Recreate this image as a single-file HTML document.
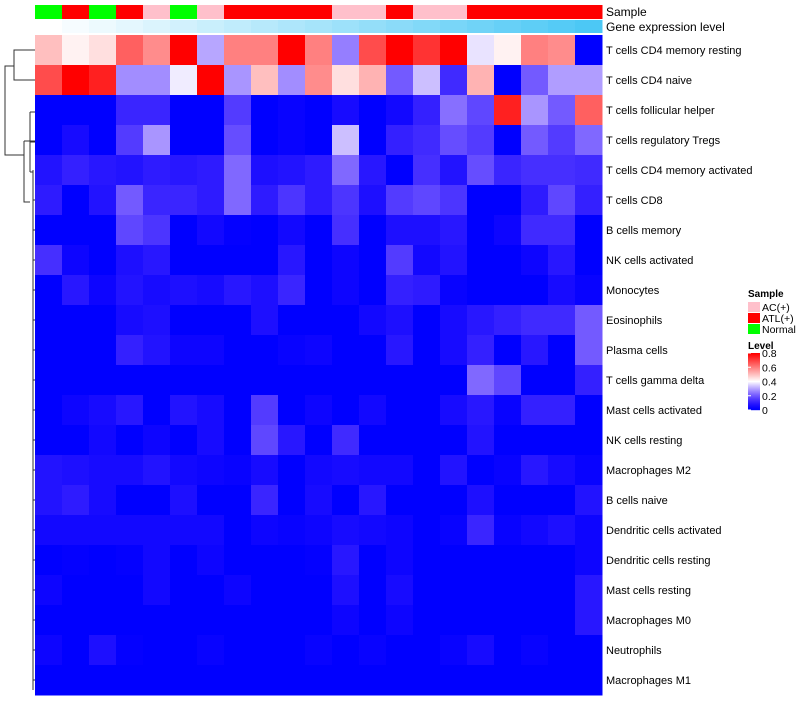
<!DOCTYPE html>
<html><head><meta charset="utf-8"><style>
body{margin:0;background:#fff;font-family:"Liberation Sans",sans-serif;}
svg text{font-family:"Liberation Sans",sans-serif;}
</style></head><body>
<svg id="chart" width="800" height="700">
<g id="dendro" stroke="#333" fill="none" stroke-width="1">
<path d="M35,50H14V80H35M14,66H5V155H24M24,141H35M24,141V202H30M30,112H35M30,142H35M30,112V172M30,172H33M33,170V690M33,200H35M33,230H35M33,260H35M33,290H35M33,320H35M33,350H35M33,380H35M33,410H35M33,440H35M33,470H35M33,500H35M33,530H35M33,560H35M33,590H35M33,620H35M33,650H35M33,680H35"/>
</g>
</svg>
<script>
const rows=["T cells CD4 memory resting","T cells CD4 naive","T cells follicular helper","T cells regulatory  Tregs","T cells CD4 memory activated","T cells CD8","B cells memory","NK cells activated","Monocytes","Eosinophils","Plasma cells","T cells gamma delta","Mast cells activated","NK cells resting","Macrophages M2","B cells naive","Dendritic cells activated","Dendritic cells resting","Mast cells resting","Macrophages M0","Neutrophils","Macrophages M1"];
const samples=["Normal","ATL(+)","Normal","ATL(+)","AC(+)","Normal","AC(+)","ATL(+)","ATL(+)","ATL(+)","ATL(+)","AC(+)","AC(+)","ATL(+)","AC(+)","AC(+)","ATL(+)","ATL(+)","ATL(+)","ATL(+)","ATL(+)"];
const geneLevel=[0,0.05,0.1,0.15,0.2,0.25,0.3,0.35,0.4,0.45,0.5,0.55,0.6,0.65,0.7,0.75,0.8,0.85,0.9,0.95,1];
const values=[
[0.5,0.42,0.45,0.65,0.58,0.8,0.3,0.6,0.6,0.8,0.6,0.25,0.68,0.8,0.72,0.8,0.37,0.42,0.6,0.58,0],
[0.68,0.8,0.75,0.27,0.27,0.38,0.8,0.28,0.5,0.27,0.58,0.45,0.52,0.2,0.33,0.12,0.52,0,0.2,0.29,0.29],
[0,0,0,0.11,0.11,0,0,0.15,0,0.02,0,0.05,0,0.04,0.1,0.23,0.17,0.75,0.28,0.2,0.65],
[0,0.05,0,0.15,0.28,0,0,0.18,0,0.02,0,0.33,0,0.1,0.12,0.18,0.15,0,0.2,0.15,0.22],
[0.07,0.1,0.08,0.07,0.09,0.08,0.09,0.22,0.06,0.07,0.09,0.22,0.08,0,0.13,0.07,0.18,0.11,0.13,0.13,0.12],
[0.09,0,0.07,0.2,0.11,0.11,0.09,0.22,0.09,0.14,0.09,0.14,0.06,0.15,0.17,0.14,0,0,0.09,0.17,0.1],
[0,0,0,0.17,0.14,0,0.04,0.01,0,0.04,0,0.13,0,0.06,0.06,0.08,0,0.03,0.12,0.12,0],
[0.13,0.03,0,0.06,0.08,0,0,0,0,0.08,0,0.03,0,0.15,0.04,0.07,0,0,0.03,0.08,0],
[0,0.08,0.03,0.07,0.05,0.06,0.05,0.08,0.06,0.11,0,0.03,0,0.1,0.09,0.02,0,0,0,0.05,0.02],
[0,0,0,0.05,0.06,0,0,0,0.06,0,0,0,0.04,0.06,0,0.05,0.08,0.1,0.12,0.12,0.2],
[0,0,0,0.1,0.07,0.03,0.03,0,0,0.02,0.03,0,0,0.08,0,0.05,0.1,0,0.08,0,0.2],
[0,0,0,0,0,0,0,0,0,0,0,0,0,0,0,0,0.22,0.17,0,0,0.1],
[0,0.03,0.05,0.08,0,0.07,0.05,0,0.15,0,0.03,0,0.04,0,0,0.05,0.08,0.02,0.1,0.1,0],
[0,0,0.04,0,0.03,0,0.05,0,0.17,0.08,0,0.12,0,0,0,0,0.07,0,0,0,0],
[0.07,0.06,0.05,0.05,0.07,0.04,0.03,0.02,0.05,0,0.04,0.05,0.04,0.04,0,0.07,0,0.02,0.08,0.05,0.02],
[0.07,0.09,0.05,0,0,0.06,0,0,0.11,0,0.05,0,0.08,0,0,0,0.06,0,0,0,0.07],
[0.04,0.04,0.04,0.04,0.04,0.04,0.04,0,0.03,0.02,0.03,0.05,0.04,0.03,0,0.02,0.11,0.02,0.04,0.06,0.03],
[0,0.01,0,0.01,0.04,0,0.03,0,0,0,0.01,0.08,0,0.03,0,0,0,0,0,0,0.03],
[0.03,0,0,0,0.04,0,0,0.03,0,0,0,0.06,0,0.05,0,0,0,0,0,0,0.08],
[0,0,0,0,0,0,0,0,0,0,0,0.03,0,0.03,0,0,0,0,0,0,0.08],
[0.03,0,0.06,0.01,0,0,0.02,0,0,0,0.02,0,0.02,0,0,0.02,0.05,0,0.02,0,0],
[0,0,0,0,0,0,0,0,0,0,0,0,0,0,0,0,0,0,0,0,0]
];
const legendTicks=["0.8","0.6","0.4","0.2","0"];
const sampleColors={"AC(+)":"#ffc0cb","ATL(+)":"#ff0000","Normal":"#00ff00"};
const NS="http://www.w3.org/2000/svg";
const svg=document.getElementById('chart');
const X0=35,X1=602,Y0=35,Y1=695;
const cw=(X1-X0)/samples.length, rh=(Y1-Y0)/rows.length;
const xPos=i=>X0+i*cw, yPos=j=>Y0+j*rh;
function lerp(a,b,t){return Math.round(a+(b-a)*t);}
function valColor(v){v=Math.max(0,Math.min(0.8,v));
 if(v<=0.4){const t=v/0.4;return `rgb(${Math.round(255*Math.pow(t,1.15))},${Math.round(255*Math.pow(t,1.5))},255)`;}
 const t=(v-0.4)/0.4;return `rgb(255,${lerp(255,0,t)},${lerp(255,0,t)})`;}
function geneColor(g){return `rgb(${lerp(255,76,g)},${lerp(255,200,g)},${lerp(255,245,g)})`;}
function mk(tag,attrs){const e=document.createElementNS(NS,tag);for(const k in attrs)e.setAttribute(k,attrs[k]);svg.appendChild(e);return e;}
samples.forEach((s,i)=>{
 const r=mk('rect',{x:xPos(i),y:5,width:cw+0.5,height:14,fill:sampleColors[s]});
 
 
 const g=mk('rect',{x:xPos(i),y:20,width:cw+0.5,height:13,fill:geneColor(geneLevel[i])});
 
 
});
let t=mk('text',{x:606,y:16,'font-size':12});t.textContent='Sample';


t=mk('text',{x:606,y:31,'font-size':12});t.textContent='Gene expression level';


values.forEach((row,j)=>{
 row.forEach((v,i)=>{
  const c=mk('rect',{x:xPos(i),y:yPos(j),width:cw+0.5,height:rh+0.5,fill:valColor(v)});
  
  
 });
 const l=mk('text',{x:606,y:yPos(j)+rh/2+4,'font-size':11});l.textContent=rows[j];
 
 
});
let lt=mk('text',{x:748,y:297,'font-size':10,'font-weight':'bold'});lt.textContent='Sample';


Object.keys(sampleColors).forEach((k,i)=>{
 const r=mk('rect',{x:748,y:302+i*11,width:12,height:10,fill:sampleColors[k]});
 
 
 const tx=mk('text',{x:762,y:311+i*11,'font-size':10.5});tx.textContent=k;
 
 
});
lt=mk('text',{x:748,y:349,'font-size':10,'font-weight':'bold'});lt.textContent='Level';


const LY0=353,LY1=410;
for(let k=0;k<57;k++){
 const v=0.8*(1-k/56);
 const r=mk('rect',{x:748,y:LY0+k,width:12,height:1.2,fill:valColor(v)});
 
 
}
legendTicks.forEach((s,i)=>{
 const y=LY0+i*(LY1-LY0)/(legendTicks.length-1);
 const ln=mk('line',{x1:748,x2:751,y1:y,y2:y,stroke:'#fff'});
 
 
 const tx=mk('text',{x:762,y:y+4,'font-size':10.5});tx.textContent=s;
 
 
});
</script>
</body></html>
